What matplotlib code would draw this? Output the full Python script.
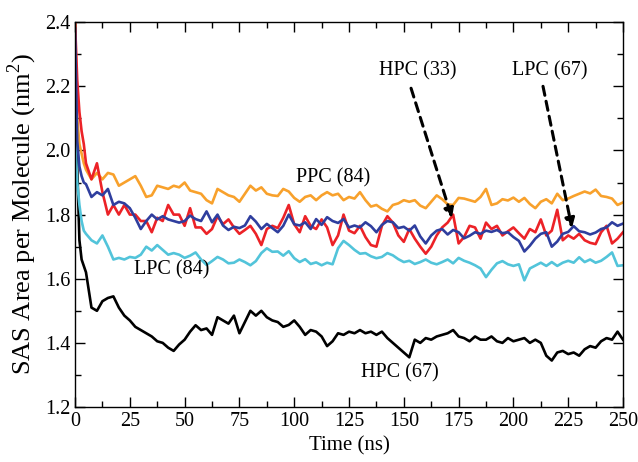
import numpy as np
import matplotlib
matplotlib.use("Agg")
import matplotlib.pyplot as plt

plt.rcParams['font.family'] = ['Liberation Serif', 'DejaVu Serif']
plt.rcParams['mathtext.fontset'] = 'custom'
plt.rcParams['mathtext.rm'] = 'Liberation Serif'

# time axis (ns): dense at the start, then every 2.5 ns
time = [0, 1, 2, 3, 4] + list(np.arange(5, 250.01, 2.5))

ppc_84 = [2.40, 2.10, 2.02, 1.99, 1.96,
          1.94, 1.91, 1.93, 1.91, 1.93, 1.925, 1.89, 1.90, 1.91, 1.92, 1.89, 1.855, 1.86, 1.89, 1.885, 1.88, 1.89, 1.885, 1.90,
          1.875, 1.87, 1.865, 1.845, 1.835, 1.88, 1.87, 1.86, 1.855, 1.84, 1.865, 1.89, 1.875, 1.885, 1.865, 1.86, 1.858, 1.88, 1.872, 1.852,
          1.84, 1.855, 1.86, 1.845, 1.86, 1.87, 1.86, 1.865, 1.845, 1.855, 1.85, 1.87, 1.845, 1.825, 1.83, 1.818, 1.81, 1.83, 1.835, 1.845,
          1.84, 1.845, 1.828, 1.82, 1.84, 1.86, 1.848, 1.832, 1.83, 1.852, 1.85, 1.845, 1.84, 1.855, 1.88, 1.83, 1.835, 1.848, 1.844, 1.853,
          1.84, 1.852, 1.833, 1.82, 1.84, 1.848, 1.835, 1.865, 1.845, 1.85, 1.858, 1.865, 1.872, 1.866, 1.878, 1.858, 1.855, 1.85, 1.83, 1.838]

hpc_33 = [2.40, 2.22, 2.12, 2.06, 2.02,
          1.96, 1.91, 1.96, 1.87, 1.80, 1.83, 1.80, 1.83, 1.80, 1.80, 1.78, 1.78, 1.745, 1.79, 1.78, 1.83, 1.80, 1.80, 1.765,
          1.82, 1.76, 1.76, 1.74, 1.755, 1.795, 1.77, 1.785, 1.76, 1.74, 1.752, 1.765, 1.74, 1.705, 1.755, 1.765, 1.758, 1.79, 1.83, 1.77,
          1.745, 1.795, 1.765, 1.755, 1.785, 1.76, 1.705, 1.735, 1.80, 1.75, 1.742, 1.765, 1.73, 1.705, 1.70, 1.765, 1.795, 1.775, 1.735, 1.715,
          1.755, 1.725, 1.70, 1.678, 1.70, 1.735, 1.76, 1.775, 1.80, 1.71, 1.73, 1.765, 1.76, 1.725, 1.775, 1.755, 1.765, 1.735, 1.748, 1.76,
          1.742, 1.725, 1.755, 1.745, 1.785, 1.735, 1.75, 1.815, 1.72, 1.735, 1.725, 1.74, 1.72, 1.712, 1.708, 1.745, 1.765, 1.71, 1.725, 1.745]

lpc_67 = [2.38, 2.03, 1.95, 1.92, 1.90,
          1.895, 1.855, 1.87, 1.86, 1.88, 1.83, 1.84, 1.835, 1.82, 1.79, 1.755, 1.78, 1.80, 1.785, 1.795, 1.785, 1.78, 1.775, 1.78,
          1.797, 1.786, 1.78, 1.81, 1.776, 1.80, 1.766, 1.752, 1.762, 1.758, 1.766, 1.795, 1.778, 1.755, 1.771, 1.758, 1.745, 1.765, 1.80, 1.77,
          1.766, 1.776, 1.755, 1.786, 1.768, 1.792, 1.78, 1.774, 1.786, 1.76, 1.766, 1.76, 1.776, 1.764, 1.745, 1.768, 1.78, 1.776, 1.758, 1.762,
          1.75, 1.766, 1.732, 1.71, 1.735, 1.75, 1.755, 1.738, 1.752, 1.745, 1.726, 1.734, 1.745, 1.74, 1.75, 1.746, 1.752, 1.742, 1.745, 1.73,
          1.718, 1.685, 1.703, 1.725, 1.74, 1.745, 1.70, 1.716, 1.74, 1.746, 1.764, 1.748, 1.745, 1.738, 1.744, 1.755, 1.76, 1.776, 1.765, 1.772]

lpc_84 = [2.05, 1.90, 1.83, 1.78, 1.75,
          1.74, 1.72, 1.71, 1.735, 1.70, 1.66, 1.665, 1.66, 1.668, 1.665, 1.675, 1.70, 1.688, 1.705, 1.69, 1.675, 1.68, 1.675, 1.665,
          1.672, 1.682, 1.66, 1.643, 1.655, 1.668, 1.66, 1.648, 1.65, 1.66, 1.652, 1.642, 1.655, 1.68, 1.695, 1.684, 1.685, 1.672, 1.686, 1.664,
          1.652, 1.661, 1.646, 1.651, 1.642, 1.65, 1.645, 1.695, 1.718, 1.705, 1.69, 1.678, 1.68, 1.67, 1.664, 1.668, 1.68, 1.673, 1.661, 1.652,
          1.656, 1.646, 1.652, 1.66, 1.65, 1.645, 1.652, 1.66, 1.648, 1.665, 1.656, 1.65, 1.642, 1.632, 1.605, 1.628, 1.648, 1.655, 1.645, 1.64,
          1.645, 1.595, 1.632, 1.641, 1.65, 1.64, 1.652, 1.64, 1.65, 1.656, 1.65, 1.667, 1.652, 1.66, 1.65, 1.656, 1.668, 1.682, 1.64, 1.642]

hpc_67 = [2.40, 1.95, 1.72, 1.66, 1.64,
          1.62, 1.51, 1.50, 1.53, 1.54, 1.545, 1.51, 1.485, 1.47, 1.45, 1.44, 1.43, 1.42, 1.405, 1.40, 1.385, 1.375, 1.395, 1.41,
          1.435, 1.455, 1.44, 1.445, 1.425, 1.48, 1.47, 1.46, 1.485, 1.43, 1.465, 1.50, 1.485, 1.50, 1.48, 1.47, 1.465, 1.45, 1.456, 1.47,
          1.45, 1.425, 1.44, 1.435, 1.42, 1.39, 1.405, 1.43, 1.425, 1.435, 1.43, 1.44, 1.43, 1.435, 1.425, 1.435, 1.415, 1.40, 1.385, 1.37,
          1.355, 1.41, 1.40, 1.415, 1.41, 1.42, 1.425, 1.43, 1.44, 1.42, 1.415, 1.405, 1.42, 1.41, 1.41, 1.42, 1.405, 1.40, 1.415, 1.405,
          1.41, 1.415, 1.40, 1.41, 1.40, 1.36, 1.345, 1.37, 1.375, 1.365, 1.37, 1.36, 1.38, 1.39, 1.385, 1.405, 1.415, 1.41, 1.435, 1.41]

series = [
    (hpc_67, "black"),
    (lpc_84, "#52c4da"),
    (ppc_84, "#f8a12c"),
    (hpc_33, "#ec2227"),
    (lpc_67, "#2f3e9e"),
]

fig = plt.figure(figsize=(6.38, 4.62), dpi=100)
ax = fig.add_axes([0.1176, 0.119, 0.8589, 0.833])

for vals, col in series:
    ax.plot(time, vals, color=col, lw=1.9)

ax.set_xlim(0, 250)
ax.set_ylim(1.2, 2.4)
ax.set_xticks(np.arange(0, 251, 25))
ax.set_xticks(np.arange(0, 251, 12.5), minor=True)
ax.set_yticks(np.arange(1.2, 2.41, 0.2))
ax.set_yticks(np.arange(1.2, 2.41, 0.1), minor=True)
ax.yaxis.set_major_formatter(matplotlib.ticker.FormatStrFormatter('%.1f'))
ax.tick_params(which='both', direction='in', top=True, right=True, labelsize=14.5)
ax.tick_params(which='major', length=7, width=1.0)
ax.tick_params(which='minor', length=4, width=1.0)
for s in ax.spines.values():
    s.set_linewidth(1.0)

ax.set_xlabel("Time (ns)", fontsize=15, labelpad=4)
ax.set_ylabel(r"SAS Area per Molecule (nm$^\mathregular{2}$)", fontsize=19, labelpad=4)

ax.text(117.7, 1.914, "PPC (84)", fontsize=14.5, ha='center', va='center')
ax.text(44.3, 1.627, "LPC (84)", fontsize=14.5, ha='center', va='center')
ax.text(148, 1.306, "HPC (67)", fontsize=14.5, ha='center', va='center')
ax.text(156.5, 2.247, "HPC (33)", fontsize=14.5, ha='center', va='center')
ax.text(216.7, 2.247, "LPC (67)", fontsize=14.5, ha='center', va='center')

arrow = dict(arrowstyle='-|>', color='black', lw=2.2, linestyle=(0, (3, 2)),
             mutation_scale=14, shrinkA=0, shrinkB=0)
ax.annotate("", xy=(172, 1.789), xytext=(153.3, 2.194), arrowprops=arrow)
ax.annotate("", xy=(226.7, 1.758), xytext=(213.5, 2.200), arrowprops=arrow)

fig.savefig("out.png", dpi=100)
